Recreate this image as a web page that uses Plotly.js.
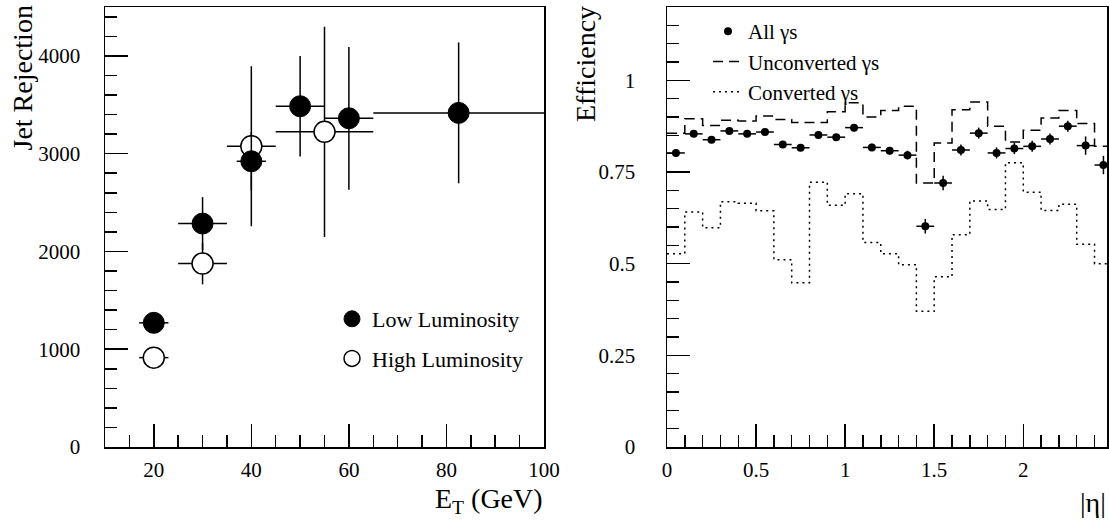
<!DOCTYPE html>
<html>
<head>
<meta charset="utf-8">
<script src="https://cdn.plot.ly/plotly-3.0.1.min.js"></script>
<style>html,body{margin:0;padding:0;background:#fff;}#chart{width:1109px;height:523px;}</style>
</head>
<body>
<div id="chart"></div>
<script>
// ---------- Left panel: jet rejection vs E_T ----------
const etLow = [20, 30, 40, 50, 60, 82.5];
const etLowHalfWidth = [3, 5, 3, 5, 5, 17.5];
const rejLow = [1270, 2285, 2922, 3485, 3362, 3417];
const rejLowErr = [40, 270, 300, 515, 730, 720];

const etHigh = [20, 30, 40, 55];
const etHighHalfWidth = [3, 5, 5, 10];
const rejHigh = [914, 1876, 3076, 3223];
const rejHighErr = [40, 212, 818, 1075];

// ---------- Right panel: efficiency vs |eta| ----------
const etaCenters = [0.05, 0.15, 0.25, 0.35, 0.45, 0.55, 0.65, 0.75, 0.85, 0.95,
                    1.05, 1.15, 1.25, 1.35, 1.45, 1.55, 1.65, 1.75, 1.85, 1.95,
                    2.05, 2.15, 2.25, 2.35, 2.45];
const etaHalfWidth = 0.05;
const effAll = [0.802, 0.854, 0.838, 0.862, 0.854, 0.859, 0.825, 0.816, 0.851, 0.845,
                0.871, 0.817, 0.808, 0.796, 0.602, 0.720, 0.810, 0.856, 0.802, 0.814,
                0.820, 0.840, 0.875, 0.822, 0.769];
const effAllErr = [0.008, 0.008, 0.008, 0.008, 0.008, 0.008, 0.008, 0.008, 0.008, 0.008,
                   0.01, 0.01, 0.01, 0.012, 0.02, 0.02, 0.015, 0.015, 0.015, 0.015,
                   0.015, 0.015, 0.015, 0.025, 0.025];
const effUnconv = [0.856, 0.895, 0.877, 0.891, 0.889, 0.903, 0.893, 0.885, 0.885, 0.914,
                   0.939, 0.900, 0.918, 0.929, 0.720, 0.829, 0.920, 0.941, 0.875, 0.832,
                   0.864, 0.897, 0.918, 0.882, 0.820];
const effConv = [0.527, 0.641, 0.598, 0.669, 0.665, 0.644, 0.511, 0.448, 0.722, 0.659,
                 0.691, 0.558, 0.527, 0.497, 0.370, 0.464, 0.579, 0.671, 0.648, 0.775,
                 0.695, 0.645, 0.662, 0.553, 0.500];

const FONT = 'Liberation Serif, Times New Roman, serif';

function stepX(centers, hw) {
  const xs = centers.map(c => c - hw);
  xs.push(centers[centers.length - 1] + hw);
  return xs;
}
function stepY(vals) {
  const ys = vals.slice();
  ys.push(vals[vals.length - 1]);
  return ys;
}

const errStyle = {type: 'data', width: 0, thickness: 1.5, color: '#000', visible: true};

const traces = [
  {
    x: etHigh, y: rejHigh, type: 'scatter', mode: 'markers', name: 'High Luminosity',
    xaxis: 'x', yaxis: 'y', legend: 'legend', legendgroup: 'hi', legendrank: 2,
    marker: {symbol: 'circle', size: 21, color: '#fff', line: {color: '#000', width: 1.5}},
    error_x: Object.assign({array: etHighHalfWidth}, errStyle),
    error_y: Object.assign({array: rejHighErr}, errStyle)
  },
  {
    x: etLow, y: rejLow, type: 'scatter', mode: 'markers', name: 'Low Luminosity',
    xaxis: 'x', yaxis: 'y', legend: 'legend', legendgroup: 'lo', legendrank: 1,
    marker: {symbol: 'circle', size: 21, color: '#000', line: {color: '#000', width: 1}},
    error_x: Object.assign({array: etLowHalfWidth}, errStyle),
    error_y: Object.assign({array: rejLowErr}, errStyle)
  },
  {
    x: stepX(etaCenters, etaHalfWidth), y: stepY(effUnconv), type: 'scatter', mode: 'lines',
    name: 'Unconverted γs', xaxis: 'x2', yaxis: 'y2', legend: 'legend2', legendgroup: 'unc', legendrank: 2,
    line: {shape: 'hv', color: '#000', width: 1.5, dash: '10px,6px'}
  },
  {
    x: stepX(etaCenters, etaHalfWidth), y: stepY(effConv), type: 'scatter', mode: 'lines',
    name: 'Converted γs', xaxis: 'x2', yaxis: 'y2', legend: 'legend2', legendgroup: 'conv', legendrank: 3,
    line: {shape: 'hv', color: '#000', width: 1.5, dash: '2px,4px'}
  },
  {
    x: etaCenters, y: effAll, type: 'scatter', mode: 'markers', name: 'All γs',
    xaxis: 'x2', yaxis: 'y2', legend: 'legend2', legendgroup: 'all', legendrank: 1,
    marker: {symbol: 'circle', size: 8, color: '#000'},
    error_x: Object.assign({array: etaCenters.map(() => etaHalfWidth)}, errStyle),
    error_y: Object.assign({array: effAllErr}, errStyle)
  }
];

const W = 1109, H = 523;
const px = v => v / W;
const py = v => 1 - v / H;

function axisBase(extra) {
  return Object.assign({
    showgrid: false, zeroline: false, showline: true, mirror: true,
    linecolor: '#000', linewidth: 1.5,
    ticks: 'inside', ticklen: 23, tickwidth: 1.5, tickcolor: '#000',
    tickfont: {family: FONT, size: 21, color: '#000'},
    fixedrange: true
  }, extra);
}

const layout = {
  width: W, height: H,
  margin: {l: 0, r: 0, t: 0, b: 0},
  paper_bgcolor: '#fff', plot_bgcolor: '#fff',
  font: {family: FONT, color: '#000'},
  xaxis: axisBase({
    domain: [px(105), px(544)], range: [10, 100], tick0: 0, dtick: 20,
    anchor: 'y', ticklabelstandoff: 3,
    minor: {dtick: 5, ticklen: 12, ticks: 'inside', tickwidth: 1.5, tickcolor: '#000'}
  }),
  yaxis: axisBase({
    domain: [py(447), py(7)], range: [0, 4500], tick0: 0, dtick: 1000,
    anchor: 'x', ticklabelstandoff: 19,
    minor: {dtick: 200, ticklen: 12, ticks: 'inside', tickwidth: 1.5, tickcolor: '#000'}
  }),
  xaxis2: axisBase({
    domain: [px(667), px(1107)], range: [0, 2.47], tick0: 0, dtick: 0.5,
    anchor: 'y2', ticklabelstandoff: 3,
    minor: {dtick: 0.1, ticklen: 12, ticks: 'inside', tickwidth: 1.5, tickcolor: '#000'}
  }),
  yaxis2: axisBase({
    domain: [py(447), py(7)], range: [0, 1.2], tick0: 0, dtick: 0.25,
    anchor: 'x2', ticklabelstandoff: 26,
    minor: {dtick: 0.05, ticklen: 12, ticks: 'inside', tickwidth: 1.5, tickcolor: '#000'}
  }),
  legend: {
    x: px(332), y: py(298), xanchor: 'left', yanchor: 'top',
    bgcolor: 'rgba(0,0,0,0)', borderwidth: 0,
    font: {family: FONT, size: 22, color: '#000'},
    traceorder: 'grouped', tracegroupgap: 8
  },
  legend2: {
    x: px(708), y: py(11), xanchor: 'left', yanchor: 'top',
    bgcolor: 'rgba(0,0,0,0)', borderwidth: 0,
    font: {family: FONT, size: 21, color: '#000'},
    traceorder: 'grouped', tracegroupgap: 0
  },
  annotations: [
    {text: 'Jet Rejection', xref: 'paper', yref: 'paper', x: px(22), y: py(4),
     xanchor: 'center', yanchor: 'top', textangle: -90, showarrow: false,
     font: {family: FONT, size: 28, color: '#000'}},
    {text: 'Efficiency', xref: 'paper', yref: 'paper', x: px(585), y: py(4),
     xanchor: 'center', yanchor: 'top', textangle: -90, showarrow: false,
     font: {family: FONT, size: 28, color: '#000'}},
    {text: 'E<sub>T</sub> (GeV)', xref: 'paper', yref: 'paper', x: px(545), y: py(500),
     xanchor: 'right', yanchor: 'middle', showarrow: false,
     font: {family: FONT, size: 28, color: '#000'}},
    {text: '|η|', xref: 'paper', yref: 'paper', x: px(1108), y: py(502),
     xanchor: 'right', yanchor: 'middle', showarrow: false,
     font: {family: FONT, size: 28, color: '#000'}}
  ],
  showlegend: true
};

Plotly.newPlot('chart', traces, layout, {displayModeBar: false, staticPlot: true});
</script>
</body>
</html>
